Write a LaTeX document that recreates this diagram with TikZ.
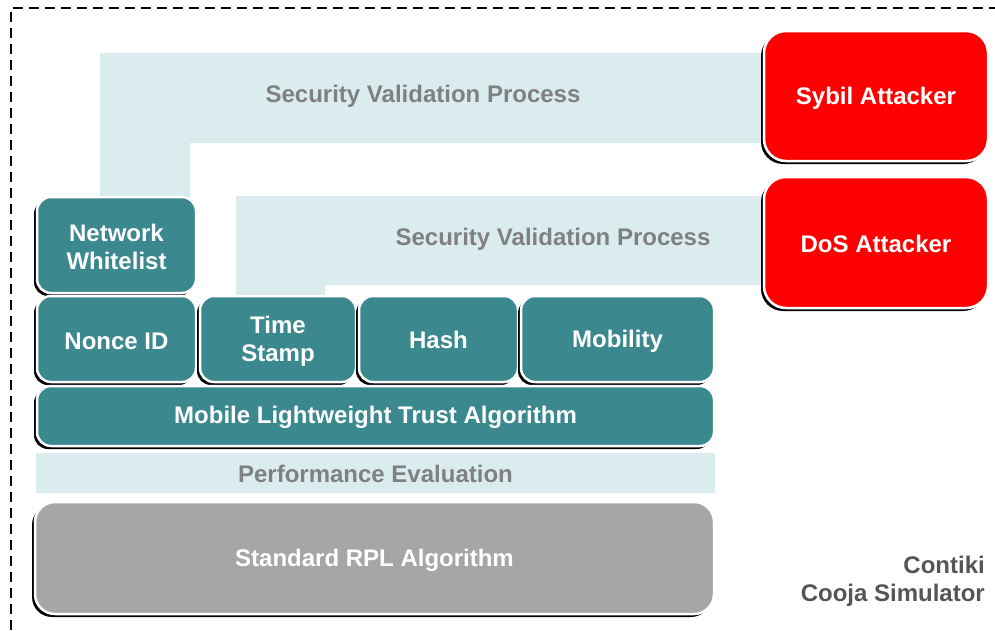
\documentclass[tikz,border=0pt]{standalone}
\usepackage{fontspec}
\setmainfont{Liberation Sans}
\usetikzlibrary{shadows}

\definecolor{tealbox}{RGB}{59,137,143}
\definecolor{paleband}{RGB}{218,236,238}
\definecolor{attackred}{RGB}{255,0,0}
\definecolor{rplgrey}{RGB}{166,166,166}
\definecolor{bandtext}{RGB}{128,128,128}
\definecolor{simtext}{RGB}{85,85,85}

\tikzset{
  heavyfont/.style={font=\fontsize{24}{27.5}\selectfont\bfseries},
  tile/.style={draw=white, line width=2.5pt, inner sep=0pt,
    drop shadow={shadow xshift=-3pt, shadow yshift=-3pt, fill=black, opacity=1}},
  tealtile/.style={tile, fill=tealbox, rounded corners=14pt},
  redtile/.style={tile, fill=attackred, rounded corners=22pt},
  greytile/.style={tile, fill=rplgrey, rounded corners=20pt},
  tiletext/.style={heavyfont, text=white, align=center, inner sep=0pt},
  band/.style={fill=paleband, draw=none},
  bandlabel/.style={heavyfont, text=bandtext, inner sep=0pt},
}

\begin{document}
\begin{tikzpicture}[x=1pt, y=-1pt]
  \useasboundingbox (0,0) rectangle (995,630);

  % simulator frame: dashed along the top and the left side
  \draw[black, line width=2pt, dash pattern=on 10pt off 6pt] (11,630) -- (11,8) -- (995,8);

  % security validation bands
  \fill[band] (100,53) -- (766,53) -- (766,143) -- (190,143) -- (190,199) -- (100,199) -- cycle;
  \node[bandlabel] (svp1) at (423,96) {Security Validation Process};
  \fill[band] (236,196) -- (766,196) -- (766,285) -- (325,285) -- (325,298) -- (236,298) -- cycle;
  \node[bandlabel] (svp2) at (553,239.5) {Security Validation Process};

  % performance evaluation band
  \node[band, minimum width=679pt, minimum height=40pt, inner sep=0pt] (perf) at (375.5,473) {};
  \node[bandlabel] (perflabel) at ([yshift=-0.5pt]perf.center) {Performance Evaluation};

  % attackers
  \node[redtile, minimum width=224pt, minimum height=130pt] (sybil) at (876,96) {};
  \node[tiletext] (sybil-t) at ([yshift=-2.5pt]sybil.center) {Sybil Attacker};
  \node[redtile, minimum width=224pt, minimum height=131pt] (dos) at (876,242.5) {};
  \node[tiletext] (dos-t) at ([yshift=-1.5pt]dos.center) {DoS Attacker};

  % trust components
  \node[tealtile, minimum width=159pt, minimum height=96pt] (whitelist) at (116.5,245) {};
  \node[tiletext] (whitelist-t) at ([yshift=-2pt]whitelist.center) {Network\\Whitelist};
  \node[tealtile, minimum width=159pt, minimum height=86pt] (nonce) at (116.5,339) {};
  \node[tiletext] (nonce-t) at ([yshift=-2pt]nonce.center) {Nonce ID};
  \node[tealtile, minimum width=156pt, minimum height=86pt] (stamp) at (278,339) {};
  \node[tiletext] (stamp-t) at ([yshift=-2.5pt]stamp.center) {Time\\Stamp};
  \node[tealtile, minimum width=159pt, minimum height=86pt] (hash) at (438.5,339) {};
  \node[tiletext] (hash-t) at ([yshift=-0.5pt]hash.center) {Hash};
  \node[tealtile, minimum width=193pt, minimum height=86pt] (mobility) at (617.5,339) {};
  \node[tiletext] (mobility-t) at ([yshift=-2pt]mobility.center) {Mobility};
  \node[tealtile, minimum width=677pt, minimum height=60pt] (mlta) at (375.5,416) {};
  \node[tiletext] (mlta-t) at ([yshift=-1.5pt]mlta.center) {Mobile Lightweight Trust Algorithm};

  % base protocol
  \node[greytile, minimum width=679pt, minimum height=112pt] (rpl) at (374.5,558) {};
  \node[tiletext] (rpl-t) at ([yshift=-2.5pt]rpl.center) {Standard RPL Algorithm};

  % simulator caption
  \node[anchor=east, align=right, text=simtext, inner sep=0pt,
        font=\fontsize{24}{28}\selectfont\bfseries] (sim) at (985,581) {Contiki\\Cooja Simulator};
\end{tikzpicture}
\end{document}
